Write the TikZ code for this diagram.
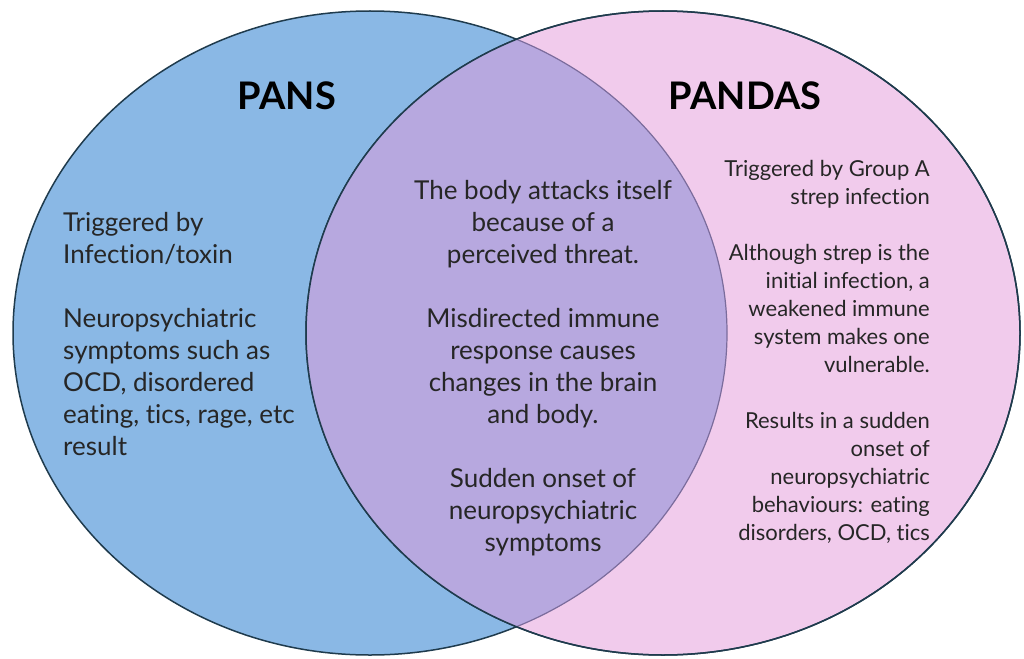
\documentclass[tikz,border=0pt]{standalone}
\usepackage{fontspec}
\setmainfont{Lato}[Ligatures={NoCommon}]
\usepackage{tikz}
\usetikzlibrary{positioning}
\definecolor{cBlue}{HTML}{8AB8E5}
\definecolor{cPink}{HTML}{F1CBEC}
\definecolor{cLilac}{HTML}{B7A8DF}
\definecolor{cEdge}{HTML}{1F3B4D}
\definecolor{cSeam}{HTML}{7B6C9C}
\tikzset{
  rim/.style={draw=cEdge,line width=1.5pt},
  title/.style={font=\fontsize{38}{44}\selectfont\bfseries,inner sep=0pt},
  body/.style={font=\fontsize{26}{32}\selectfont,inner sep=0pt,text=black!85},
  side/.style={font=\fontsize{22}{28}\selectfont,inner sep=0pt,text=black!85},
}
\begin{document}
\begin{tikzpicture}[x=1pt,y=-1pt]
  \useasboundingbox (0,0) rectangle (1024,658);
  \fill[white] (0,0) rectangle (1024,658);
  \coordinate (cl) at (370,333);
  \coordinate (cr) at (663,333);
  % the two sets
  \fill[cBlue,rim] (cl) ellipse [x radius=357,y radius=322];
  \fill[cPink,rim] (cr) ellipse [x radius=357,y radius=322];
  \begin{scope}
    \clip (cl) ellipse [x radius=357,y radius=322];
    \fill[cLilac] (cr) ellipse [x radius=357,y radius=322];
  \end{scope}
  \begin{scope}
    \clip (cr) ellipse [x radius=357,y radius=322];
    \draw[cSeam,line width=1.2pt] (cl) ellipse [x radius=357,y radius=322];
  \end{scope}
  \draw[rim] (cr) ellipse [x radius=357,y radius=322];
  % titles
  \node[title] (pans) at (287,96) {PANS};
  \node[title] (pandas) at (745,96) {PANDAS};
  % texts
  \node[body,align=left,anchor=north west] (lefttxt) at (63,212.5)
    {Triggered by\\Infection/toxin\\[32pt]
     Neuropsychiatric\\symptoms such as\\OCD, disordered\\eating, tics, rage, etc\\result};
  \node[body,align=center,anchor=north] (midtxt) at (543,180.5)
    {The body attacks itself\\because of a\\perceived threat.\\[32pt]
     Misdirected immune\\response causes\\changes in the brain\\and body.\\[32pt]
     Sudden onset of\\neuropsychiatric\\symptoms};
  \node[side,align=right,anchor=north east] (righttxt) at (930,160.5)
    {Triggered by Group A\\strep infection\\[28pt]
     Although strep is the\\initial infection, a\\weakened immune\\system makes one\\vulnerable.\\[28pt]
     Results in a sudden\\onset of\\neuropsychiatric\\behaviours: eating\\disorders, OCD, tics};
\end{tikzpicture}
\end{document}
